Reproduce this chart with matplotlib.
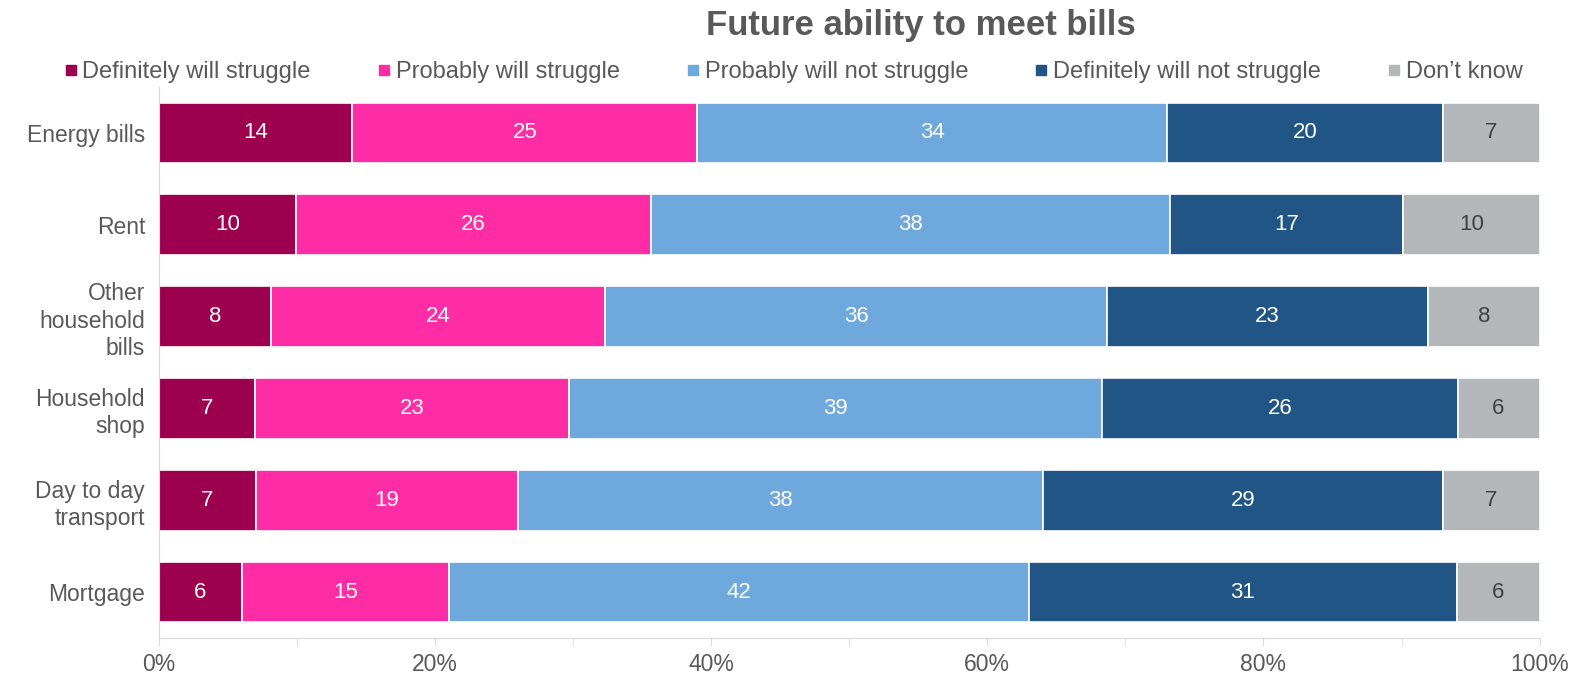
import matplotlib.pyplot as plt
import matplotlib.ticker as mticker
from matplotlib.lines import Line2D
import numpy as np

plt.rcParams['font.family'] = ['Liberation Sans Narrow', 'Liberation Sans', 'DejaVu Sans']

categories = ["Energy bills", "Rent", "Other\nhousehold\nbills", "Household\nshop",
              "Day to day\ntransport", "Mortgage"]
series = ["Definitely will struggle", "Probably will struggle", "Probably will not struggle",
          "Definitely will not struggle", "Don\u2019t know"]

definitely_struggle = [14, 10, 8, 7, 7, 6]
probably_struggle = [25, 26, 24, 23, 19, 15]
probably_not_struggle = [34, 38, 36, 39, 38, 42]
definitely_not_struggle = [20, 17, 23, 26, 29, 31]
dont_know = [7, 10, 8, 6, 7, 6]

colours = ["#9E0050", "#FF2DA5", "#6FA8DC", "#205586", "#B4B7BA"]
text_colours = ["white", "white", "white", "white", "#404040"]

values = np.array([definitely_struggle, probably_struggle, probably_not_struggle,
                   definitely_not_struggle, dont_know], dtype=float)
# 100% stacked: scale each row so it sums to 100
shares = values / values.sum(axis=0) * 100

fig = plt.figure(figsize=(15.88, 6.77), dpi=100)
ax = fig.add_axes([0.1001, 0.0576, 0.8694, 0.814])

y = np.arange(len(categories))
left = np.zeros(len(categories))
for i, name in enumerate(series):
    ax.barh(y, shares[i], 0.66, left=left, color=colours[i], edgecolor="white",
            linewidth=1.2, label=name)
    for j in range(len(categories)):
        ax.text(left[j] + shares[i][j] / 2, y[j], f"{int(values[i][j])}",
                ha="center", va="center", fontsize=16, color=text_colours[i])
    left += shares[i]

ax.set_xlim(0, 100)
ax.set_ylim(len(categories) - 0.5, -0.5)
ax.set_yticks(y)
ax.set_yticklabels(categories, fontsize=16.5, color="#595959", linespacing=1.25)
ax.xaxis.set_major_locator(mticker.MultipleLocator(20))
ax.xaxis.set_minor_locator(mticker.MultipleLocator(10))
ax.xaxis.set_major_formatter(mticker.FuncFormatter(lambda v, p: f"{int(v)}%"))
ax.tick_params(axis="x", which="both", length=6, color="#D9D9D9", labelsize=16.5,
               labelcolor="#595959", pad=5)
ax.tick_params(axis="y", length=0, pad=10)

for s in ["top", "right"]:
    ax.spines[s].set_visible(False)
ax.spines["left"].set_color("#D9D9D9")
ax.spines["bottom"].set_color("#D9D9D9")

fig.text(0.58, 0.962, "Future ability to meet bills", ha="center", va="center",
         fontsize=25, fontweight="bold", color="#595959")

handles = [Line2D([], [], marker="s", linestyle="none", markersize=7,
                  markerfacecolor=c, markeredgecolor=c) for c in colours]
fig.legend(handles, series, loc="center", bbox_to_anchor=(0.498, 0.893), ncol=5,
           frameon=False, fontsize=17, labelcolor="#595959", handletextpad=0.0,
           columnspacing=2.6, handlelength=1.0)

fig.savefig("out.png", dpi=100)
